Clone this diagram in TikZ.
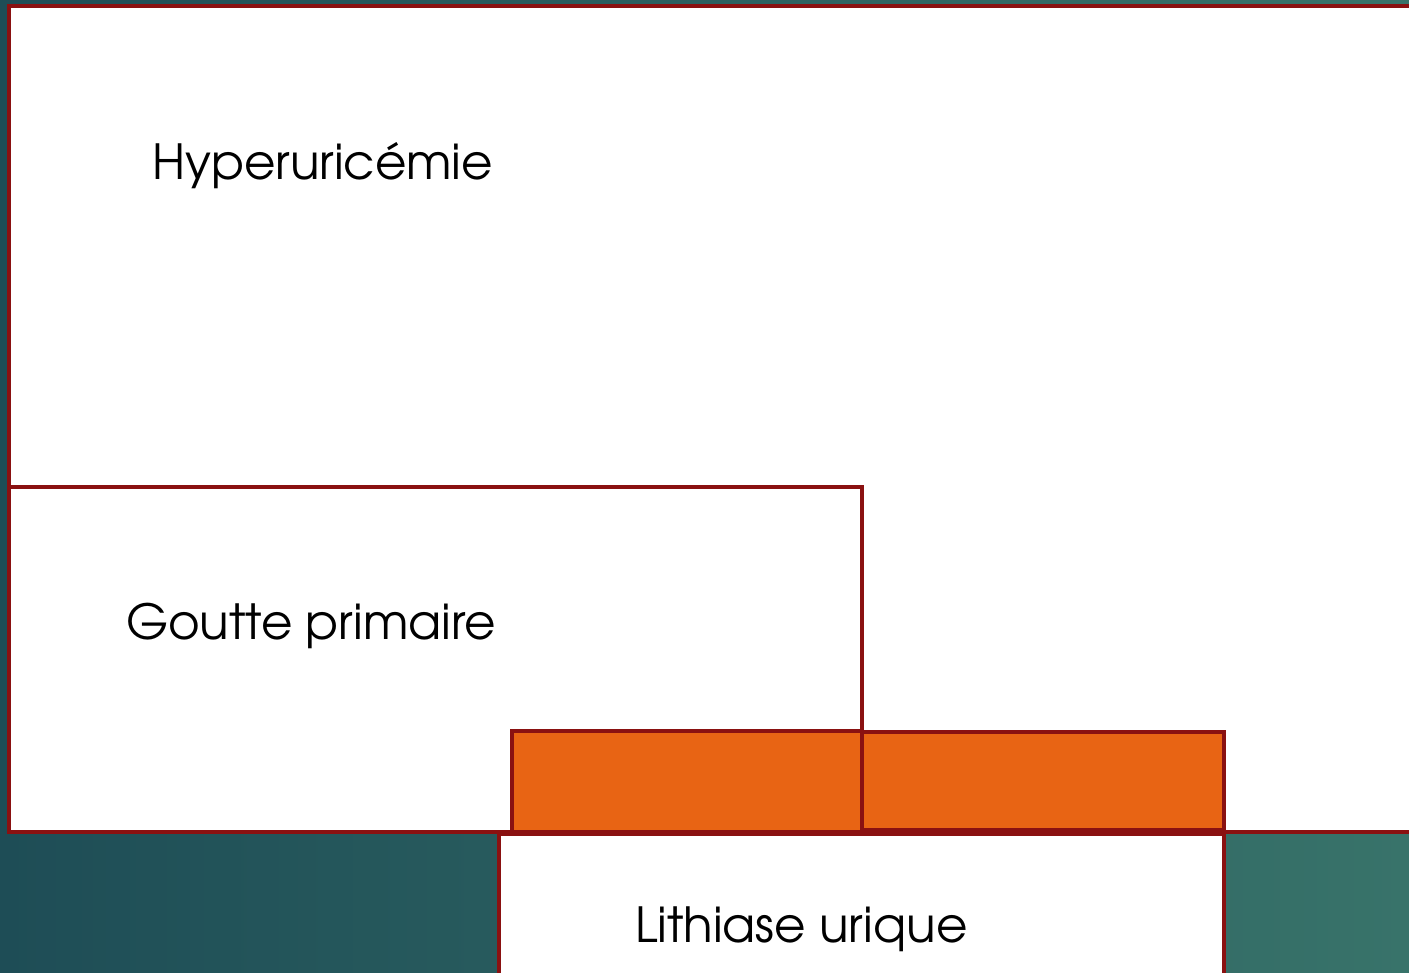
\documentclass[tikz,border=0pt]{standalone}
\usepackage{fontspec}
\setmainfont{TeX Gyre Adventor}
\definecolor{bordeaux}{HTML}{8A1111}
\definecolor{orangevif}{HTML}{E86414}
\definecolor{tealdark}{HTML}{1E4D56}
\definecolor{teallight}{HTML}{38736A}
\tikzset{
  boite/.style={draw=bordeaux, line width=2.3pt, fill=white},
  bande/.style={draw=bordeaux, line width=2.3pt, fill=orangevif},
  titre/.style={anchor=west, font=\fontsize{24.2}{27}\selectfont, text=black}
}
\begin{document}
\begin{tikzpicture}[x=0.5pt,y=-0.5pt]
	\useasboundingbox (0,0) rectangle (1409,973);
	\shade[left color=tealdark, right color=teallight] (0,0) rectangle (1409,973);
	\draw[boite] (9,6) rectangle (1420,832);
	\draw[boite] (9,487) rectangle (862,832);
	\draw[bande] (512,731) rectangle (862,832);
	\draw[bande] (862,732) rectangle (1224,830);
	\draw[boite] (499,834) rectangle (1224,990);
	\node[titre] (hyper) at (145,166) {Hyperuricémie};
	\node[titre] (goutte) at (119,626) {Goutte primaire};
	\node[titre] (lithiase) at (628,929) {Lithiase urique};
\end{tikzpicture}
\end{document}
